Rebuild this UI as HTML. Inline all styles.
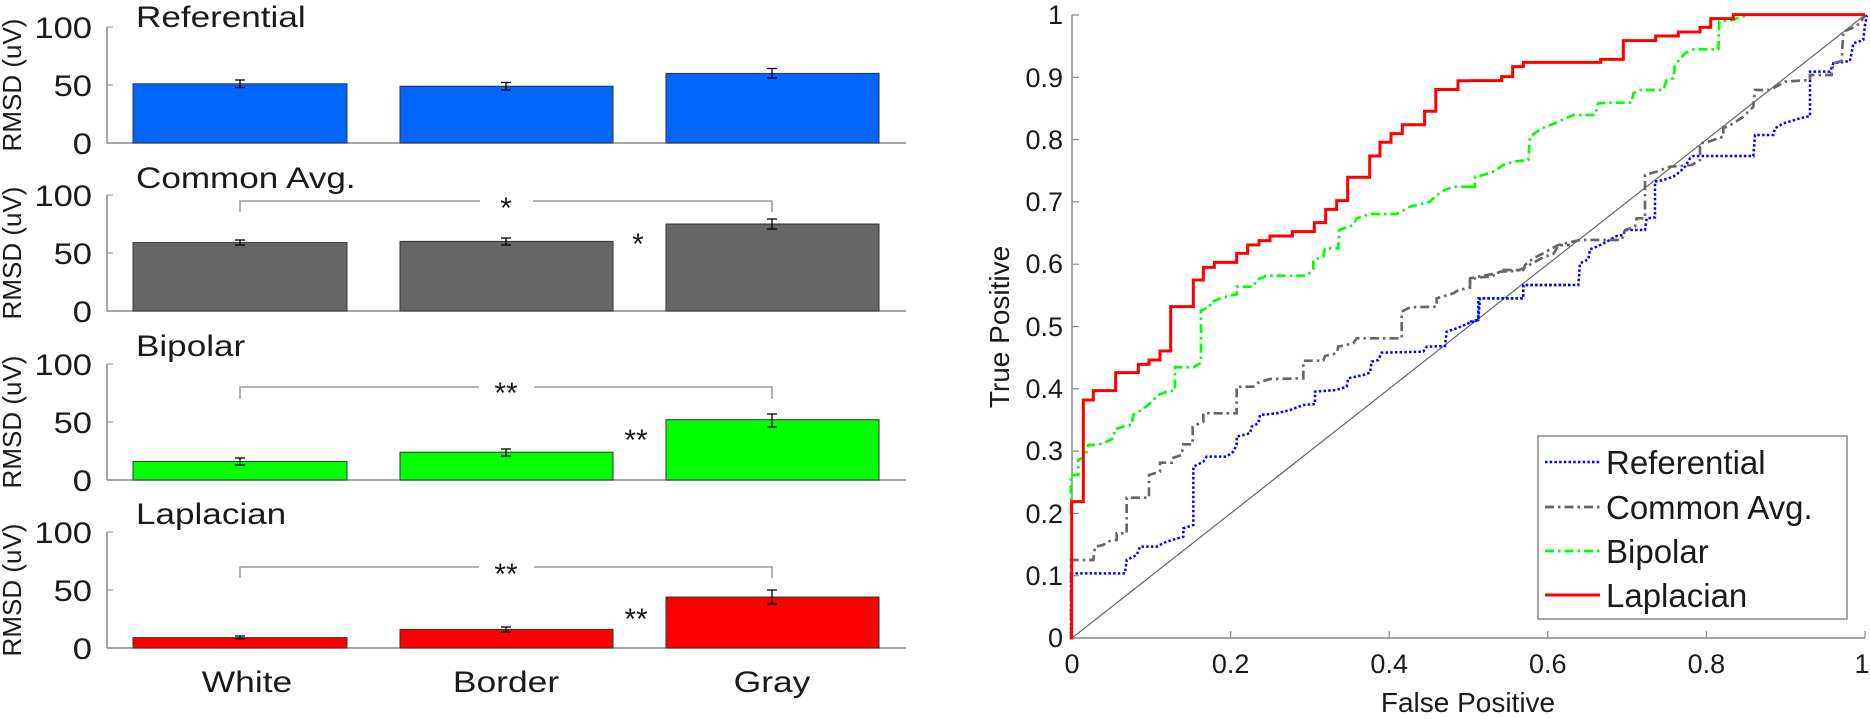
<!DOCTYPE html>
<html><head><meta charset="utf-8"><style>
html,body{margin:0;padding:0;background:#fff;}
svg{display:block;}
text{font-family:"Liberation Sans",Arial,sans-serif;fill:#1a1a1a;}
</style></head><body>
<svg width="1870" height="719" viewBox="0 0 1870 719" xmlns="http://www.w3.org/2000/svg">
<!-- ===== LEFT PANELS ===== -->
<g id="left">
<!-- panel 1 Referential zero 143 -->
<g>
<line x1="107" y1="27" x2="107" y2="143" stroke="#888" stroke-width="1.5"/>
<line x1="107" y1="143" x2="906" y2="143" stroke="#888" stroke-width="1.5"/>
<line x1="107" y1="27" x2="113" y2="27" stroke="#888"/><line x1="107" y1="85" x2="113" y2="85" stroke="#888"/>
<rect x="133" y="83.8" width="214" height="59.2" fill="#0066ff" stroke="#333" stroke-width="1"/>
<rect x="400" y="86.2" width="213" height="56.8" fill="#0066ff" stroke="#333" stroke-width="1"/>
<rect x="666" y="73.4" width="213" height="69.6" fill="#0066ff" stroke="#333" stroke-width="1"/>
<g stroke="#000" stroke-width="1.3">
<line x1="240" y1="80" x2="240" y2="87.5"/><line x1="235" y1="80" x2="245" y2="80"/><line x1="235" y1="87.5" x2="245" y2="87.5"/>
<line x1="506" y1="82.5" x2="506" y2="90"/><line x1="501" y1="82.5" x2="511" y2="82.5"/><line x1="501" y1="90" x2="511" y2="90"/>
<line x1="772" y1="68.5" x2="772" y2="78"/><line x1="767" y1="68.5" x2="777" y2="68.5"/><line x1="767" y1="78" x2="777" y2="78"/>
</g>
<text font-size="30" text-anchor="end" transform="translate(92,38) scale(1.15,1)">100</text>
<text font-size="30" text-anchor="end" transform="translate(92,96) scale(1.15,1)">50</text>
<text font-size="30" text-anchor="end" transform="translate(92,154) scale(1.15,1)">0</text>
<text font-size="26" text-anchor="middle" transform="translate(21,85) rotate(-90)">RMSD (uV)</text>
<text font-size="30" transform="translate(136,27) scale(1.17,1)">Referential</text>
</g>
<!-- panel 2 Common zero 311 -->
<g>
<line x1="107" y1="195" x2="107" y2="311" stroke="#888" stroke-width="1.5"/>
<line x1="107" y1="311" x2="906" y2="311" stroke="#888" stroke-width="1.5"/>
<line x1="107" y1="195" x2="113" y2="195" stroke="#888"/><line x1="107" y1="253" x2="113" y2="253" stroke="#888"/>
<rect x="133" y="242.6" width="214" height="68.4" fill="#666666" stroke="#333" stroke-width="1"/>
<rect x="400" y="241.4" width="213" height="69.6" fill="#666666" stroke="#333" stroke-width="1"/>
<rect x="666" y="224" width="213" height="87" fill="#666666" stroke="#333" stroke-width="1"/>
<g stroke="#000" stroke-width="1.3">
<line x1="240" y1="240" x2="240" y2="245"/><line x1="235" y1="240" x2="245" y2="240"/><line x1="235" y1="245" x2="245" y2="245"/>
<line x1="506" y1="238" x2="506" y2="245"/><line x1="501" y1="238" x2="511" y2="238"/><line x1="501" y1="245" x2="511" y2="245"/>
<line x1="772" y1="219" x2="772" y2="229"/><line x1="767" y1="219" x2="777" y2="219"/><line x1="767" y1="229" x2="777" y2="229"/>
</g>
<polyline points="240,212 240,201 480,201" fill="none" stroke="#999" stroke-width="1.5"/>
<polyline points="533,201 772,201 772,212" fill="none" stroke="#999" stroke-width="1.5"/>
<text font-size="30" text-anchor="middle" x="506" y="218">*</text>
<text font-size="30" text-anchor="middle" x="638" y="254">*</text>
<text font-size="30" text-anchor="end" transform="translate(92,206) scale(1.15,1)">100</text>
<text font-size="30" text-anchor="end" transform="translate(92,264) scale(1.15,1)">50</text>
<text font-size="30" text-anchor="end" transform="translate(92,322) scale(1.15,1)">0</text>
<text font-size="26" text-anchor="middle" transform="translate(21,253) rotate(-90)">RMSD (uV)</text>
<text font-size="30" transform="translate(136,188) scale(1.17,1)">Common Avg.</text>
</g>
<!-- panel 3 Bipolar zero 480 -->
<g>
<line x1="107" y1="364" x2="107" y2="480" stroke="#888" stroke-width="1.5"/>
<line x1="107" y1="480" x2="906" y2="480" stroke="#888" stroke-width="1.5"/>
<line x1="107" y1="364" x2="113" y2="364" stroke="#888"/><line x1="107" y1="422" x2="113" y2="422" stroke="#888"/>
<rect x="133" y="461.4" width="214" height="18.6" fill="#00ff00" stroke="#333" stroke-width="1"/>
<rect x="400" y="452.2" width="213" height="27.8" fill="#00ff00" stroke="#333" stroke-width="1"/>
<rect x="666" y="419.7" width="213" height="60.3" fill="#00ff00" stroke="#333" stroke-width="1"/>
<g stroke="#000" stroke-width="1.3">
<line x1="240" y1="458" x2="240" y2="465"/><line x1="235" y1="458" x2="245" y2="458"/><line x1="235" y1="465" x2="245" y2="465"/>
<line x1="506" y1="449" x2="506" y2="456"/><line x1="501" y1="449" x2="511" y2="449"/><line x1="501" y1="456" x2="511" y2="456"/>
<line x1="772" y1="414" x2="772" y2="427"/><line x1="767" y1="414" x2="777" y2="414"/><line x1="767" y1="427" x2="777" y2="427"/>
</g>
<polyline points="240,399 240,387 479,387" fill="none" stroke="#999" stroke-width="1.5"/>
<polyline points="534,387 772,387 772,399" fill="none" stroke="#999" stroke-width="1.5"/>
<text font-size="30" text-anchor="middle" x="506" y="403">**</text>
<text font-size="30" text-anchor="middle" x="636" y="450">**</text>
<text font-size="30" text-anchor="end" transform="translate(92,375) scale(1.15,1)">100</text>
<text font-size="30" text-anchor="end" transform="translate(92,433) scale(1.15,1)">50</text>
<text font-size="30" text-anchor="end" transform="translate(92,491) scale(1.15,1)">0</text>
<text font-size="26" text-anchor="middle" transform="translate(21,422) rotate(-90)">RMSD (uV)</text>
<text font-size="30" transform="translate(136,356) scale(1.17,1)">Bipolar</text>
</g>
<!-- panel 4 Laplacian zero 648 -->
<g>
<line x1="107" y1="532" x2="107" y2="648" stroke="#888" stroke-width="1.5"/>
<line x1="107" y1="648" x2="906" y2="648" stroke="#888" stroke-width="1.5"/>
<line x1="107" y1="532" x2="113" y2="532" stroke="#888"/><line x1="107" y1="590" x2="113" y2="590" stroke="#888"/>
<rect x="133" y="637.6" width="214" height="10.4" fill="#ff0000" stroke="#333" stroke-width="1"/>
<rect x="400" y="629.4" width="213" height="18.6" fill="#ff0000" stroke="#333" stroke-width="1"/>
<rect x="666" y="597" width="213" height="51" fill="#ff0000" stroke="#333" stroke-width="1"/>
<g stroke="#000" stroke-width="1.3">
<line x1="240" y1="636" x2="240" y2="639"/><line x1="235" y1="636" x2="245" y2="636"/><line x1="235" y1="639" x2="245" y2="639"/>
<line x1="506" y1="627" x2="506" y2="632"/><line x1="501" y1="627" x2="511" y2="627"/><line x1="501" y1="632" x2="511" y2="632"/>
<line x1="772" y1="590" x2="772" y2="604"/><line x1="767" y1="590" x2="777" y2="590"/><line x1="767" y1="604" x2="777" y2="604"/>
</g>
<polyline points="240,578 240,567 479,567" fill="none" stroke="#999" stroke-width="1.5"/>
<polyline points="534,567 772,567 772,578" fill="none" stroke="#999" stroke-width="1.5"/>
<text font-size="30" text-anchor="middle" x="506" y="584">**</text>
<text font-size="30" text-anchor="middle" x="636" y="629">**</text>
<text font-size="30" text-anchor="end" transform="translate(92,543) scale(1.15,1)">100</text>
<text font-size="30" text-anchor="end" transform="translate(92,601) scale(1.15,1)">50</text>
<text font-size="30" text-anchor="end" transform="translate(92,659) scale(1.15,1)">0</text>
<text font-size="26" text-anchor="middle" transform="translate(21,590) rotate(-90)">RMSD (uV)</text>
<text font-size="30" transform="translate(136,524) scale(1.17,1)">Laplacian</text>
<text font-size="30" text-anchor="middle" transform="translate(247,692) scale(1.18,1)">White</text>
<text font-size="30" text-anchor="middle" transform="translate(506,692) scale(1.18,1)">Border</text>
<text font-size="30" text-anchor="middle" transform="translate(772,692) scale(1.18,1)">Gray</text>
</g>
</g>

<!-- ===== RIGHT ROC ===== -->
<g id="roc">
<line x1="1072" y1="15" x2="1072" y2="638" stroke="#888" stroke-width="1.5"/>
<line x1="1072" y1="638" x2="1865" y2="638" stroke="#888" stroke-width="1.5"/>
<line x1="1072" y1="638" x2="1865" y2="15" stroke="#666" stroke-width="1.2"/>
<g stroke="#888" stroke-width="1.2">
<line x1="1072" y1="575.7" x2="1079" y2="575.7"/><line x1="1072" y1="513.4" x2="1079" y2="513.4"/>
<line x1="1072" y1="451.1" x2="1079" y2="451.1"/><line x1="1072" y1="388.8" x2="1079" y2="388.8"/>
<line x1="1072" y1="326.5" x2="1079" y2="326.5"/><line x1="1072" y1="264.2" x2="1079" y2="264.2"/>
<line x1="1072" y1="201.9" x2="1079" y2="201.9"/><line x1="1072" y1="139.6" x2="1079" y2="139.6"/>
<line x1="1072" y1="77.3" x2="1079" y2="77.3"/><line x1="1072" y1="15" x2="1079" y2="15"/>
<line x1="1230.6" y1="638" x2="1230.6" y2="631"/><line x1="1389.2" y1="638" x2="1389.2" y2="631"/>
<line x1="1547.8" y1="638" x2="1547.8" y2="631"/><line x1="1706.4" y1="638" x2="1706.4" y2="631"/>
<line x1="1865" y1="638" x2="1865" y2="631"/>
</g>
<g font-size="27" text-anchor="end">
<text x="1063" y="647">0</text><text x="1063" y="585">0.1</text><text x="1063" y="523">0.2</text>
<text x="1063" y="460">0.3</text><text x="1063" y="398">0.4</text><text x="1063" y="336">0.5</text>
<text x="1063" y="273">0.6</text><text x="1063" y="211">0.7</text><text x="1063" y="149">0.8</text>
<text x="1063" y="87">0.9</text><text x="1063" y="24">1</text>
</g>
<g font-size="27" text-anchor="middle">
<text x="1072" y="673">0</text><text x="1230.6" y="673">0.2</text><text x="1389.2" y="673">0.4</text>
<text x="1547.8" y="673">0.6</text><text x="1706.4" y="673">0.8</text><text x="1862" y="673">1</text>
</g>
<text font-size="28" text-anchor="middle" x="1468" y="712">False Positive</text>
<text font-size="28" text-anchor="middle" transform="translate(1009,327) rotate(-90)">True Positive</text>

<!-- zoom6 pieces: real = (1070,180) + z/3 -->
<g transform="translate(1070,180) scale(0.33333)" fill="none">
<polyline stroke="#0000ff" stroke-width="7.5" stroke-dasharray="7.5 6.6" points="3,1378 3,1180 165,1180 170,1140 200,1125 210,1100 260,1100 290,1085 340,1070 340,1045 370,1035 370,860 400,845 410,830 470,830 490,815 500,795 500,770 540,760 545,740 565,730 570,705 620,700 660,690 700,675 735,672 735,635 800,630 830,620 835,595 880,585 900,578 905,545 925,540 935,518 1060,515 1070,500 1125,498 1130,455 1160,445 1195,430 1225,420 1225,355 1360,355 1360,315 1500,315"/>
<polyline stroke="#666666" stroke-width="8" stroke-dasharray="27 12 7.5 12" points="3,1378 3,1140 70,1140 75,1100 100,1095 110,1085 140,1080 140,1060 170,1060 170,953 237,953 237,885 270,875 270,848 305,848 305,835 335,825 340,793 368,793 368,740 400,725 400,700 500,700 500,620 550,620 565,608 600,597 700,595 700,542 760,542 765,528 800,520 805,500 850,490 860,475 995,475 995,395 1020,382 1100,380 1100,355 1150,340 1165,330 1200,323 1200,300 1225,292 1265,290 1290,275 1340,273 1360,265 1390,248 1420,232 1450,222 1465,196 1500,195"/>
<polyline stroke="#00ff00" stroke-width="8" stroke-dasharray="27 12 7.5 12" points="3,1000 3,885 25,885 25,840 45,830 55,795 75,795 100,790 130,775 135,748 175,735 185,735 190,705 215,690 240,670 265,645 290,635 315,632 315,562 370,562 393,548 393,392 420,380 420,368 460,352 500,343 500,320 550,320 560,300 590,287 710,287 730,268 730,240 760,230 765,205 805,205 808,150 850,135 860,115 900,102 980,102 1020,80 1080,65 1095,50 1120,32 1150,20 1200,20"/>
<polyline stroke="#ff0000" stroke-width="9" points="5,1378 5,965 40,965 40,660 70,660 70,632 137,632 137,578 205,578 205,553 237,553 237,540 270,540 270,513 302,513 302,380 370,380 370,300 400,300 400,262 433,262 433,247 500,247 500,220 533,220 533,195 567,195 567,182 600,182 600,168 667,168 667,155 733,155 733,128 767,128 767,88 800,88 800,62 833,62 833,0"/>
</g>
<polyline fill="none" stroke="#ff0000" stroke-width="3" points="1347.7,180 1347.7,177.3 1369.7,177.3 1369.7,156 1380,156 1380,142.2 1391,142.2 1391,133.6 1402.3,133.6 1402.3,124.7 1424.6,124.7 1424.6,111.2 1435.8,111.2 1435.8,89.5 1458,89.5 1458,80.7 1470,80.7"/>
<!-- zoom5 pieces: real = (1470,0) + z/3 -->
<g transform="translate(1470,0) scale(0.33333)" fill="none">
<polyline stroke="#0000ff" stroke-width="7.5" stroke-dasharray="7.5 6.6" points="0,965 25,960 30,895 160,895 160,855 325,855 330,790 355,778 360,748 385,738 410,725 440,708 460,705 465,690 525,690 530,655 555,652 555,545 580,540 610,530 630,515 645,500 660,475 670,468 850,468 855,405 910,405 915,385 940,370 990,355 1020,348 1020,215 1080,215 1090,190 1140,183 1150,130 1180,120 1185,75 1190,50 1185,45"/>
<polyline stroke="#666666" stroke-width="8" stroke-dasharray="27 12 7.5 12" points="0,850 0,835 35,828 80,820 100,810 160,810 165,795 190,775 220,760 255,740 265,735 330,720 455,720 465,690 495,680 500,655 525,655 525,525 560,515 600,500 665,495 690,480 690,430 715,425 760,410 760,385 790,370 820,350 850,320 855,270 900,270 945,245 1020,240 1020,225 1085,225 1090,190 1115,183 1120,95 1145,85 1170,70 1185,45"/>
<polyline stroke="#00ff00" stroke-width="8" stroke-dasharray="27 12 7.5 12" points="0,560 15,560 15,530 40,525 70,515 100,495 130,485 175,480 180,410 215,385 255,370 265,365 310,345 375,345 385,310 420,308 485,308 490,280 505,270 580,270 590,240 610,235 615,195 645,160 670,148 745,148 748,65 790,60 800,55 825,48 830,44"/>
<polyline stroke="#ff0000" stroke-width="9" points="0,242 95,242 95,230 128,230 128,200 160,200 160,187 392,187 392,178 460,178 460,122 557,122 557,108 625,108 625,96 690,96 690,82 722,82 722,56 790,56 790,44 1185,44"/>
</g>

<!-- legend -->
<rect x="1538" y="436" width="309" height="183" fill="#fff" stroke="#888" stroke-width="1.5"/>
<line x1="1545" y1="462" x2="1600" y2="462" stroke="#0000ff" stroke-width="2.5" stroke-dasharray="2.5 2.2"/>
<line x1="1545" y1="507" x2="1600" y2="507" stroke="#666" stroke-width="2.7" stroke-dasharray="9 4 2.5 4"/>
<line x1="1545" y1="551" x2="1600" y2="551" stroke="#00ff00" stroke-width="2.7" stroke-dasharray="9 4 2.5 4"/>
<line x1="1545" y1="595" x2="1600" y2="595" stroke="#ff0000" stroke-width="3"/>
<g font-size="33">
<text x="1606" y="474">Referential</text>
<text x="1606" y="519">Common Avg.</text>
<text x="1606" y="563">Bipolar</text>
<text x="1606" y="607">Laplacian</text>
</g>
</g>
</svg>
</body></html>
